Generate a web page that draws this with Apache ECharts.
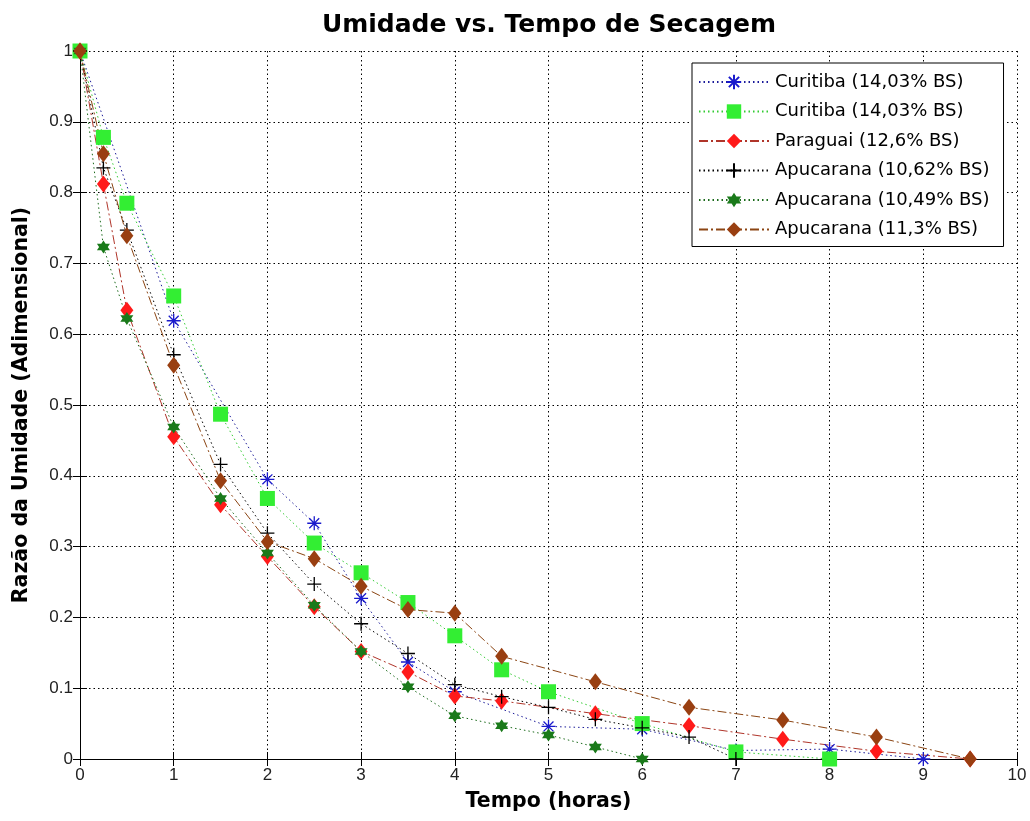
<!DOCTYPE html>
<html>
<head>
<meta charset="utf-8">
<script src="https://cdn.jsdelivr.net/npm/echarts@6/dist/echarts.min.js"></script>
<style>
  html, body { margin: 0; padding: 0; background: #fff; }
  #chart { width: 1030px; height: 821px; }
</style>
</head>
<body>
<div id="chart"></div>
<script>
// Drying curves: moisture ratio vs. drying time (hours)
const seriesNames = [
  'Curitiba (14,03% BS)',
  'Curitiba (14,03% BS) ',
  'Paraguai (12,6% BS)',
  'Apucarana (10,62% BS)',
  'Apucarana (10,49% BS)',
  'Apucarana (11,3% BS)'
];

const curitibaStarT = [0, 1, 2, 2.5, 3, 3.5, 4, 5, 6, 7, 8, 9];
const curitibaStarV = [1, 0.619, 0.395, 0.333, 0.227, 0.137, 0.095, 0.046, 0.042, 0.012, 0.014, 0.0];

const curitibaSquareT = [0, 0.25, 0.5, 1, 1.5, 2, 2.5, 3, 3.5, 4, 4.5, 5, 6, 7, 8];
const curitibaSquareV = [1, 0.878, 0.785, 0.654, 0.487, 0.368, 0.305, 0.263, 0.221, 0.174, 0.126, 0.095, 0.05, 0.01, 0.0];

const paraguaiT = [0, 0.25, 0.5, 1, 1.5, 2, 2.5, 3, 3.5, 4, 4.5, 5.5, 6.5, 7.5, 8.5, 9.5];
const paraguaiV = [1, 0.812, 0.634, 0.455, 0.359, 0.286, 0.215, 0.152, 0.123, 0.089, 0.082, 0.064, 0.047, 0.028, 0.011, 0.0];

const apucarana1062T = [0, 0.25, 0.5, 1, 1.5, 2, 2.5, 3, 3.5, 4, 4.5, 5, 5.5, 6, 6.5, 7];
const apucarana1062V = [1, 0.835, 0.747, 0.571, 0.416, 0.319, 0.247, 0.191, 0.149, 0.105, 0.088, 0.073, 0.056, 0.044, 0.031, 0.0];

const apucarana1049T = [0, 0.25, 0.5, 1, 1.5, 2, 2.5, 3, 3.5, 4, 4.5, 5, 5.5, 6];
const apucarana1049V = [1, 0.723, 0.622, 0.469, 0.368, 0.291, 0.217, 0.152, 0.102, 0.061, 0.047, 0.034, 0.017, 0.0];

const apucarana113T = [0, 0.25, 0.5, 1, 1.5, 2, 2.5, 3, 3.5, 4, 4.5, 5.5, 6.5, 7.5, 8.5, 9.5];
const apucarana113V = [1, 0.855, 0.739, 0.556, 0.393, 0.307, 0.283, 0.244, 0.211, 0.206, 0.145, 0.109, 0.073, 0.055, 0.031, 0.0];

const xTicks = [0, 1, 2, 3, 4, 5, 6, 7, 8, 9, 10];
const yTicks = [0, 0.1, 0.2, 0.3, 0.4, 0.5, 0.6, 0.7, 0.8, 0.9, 1];

function pairs(t, v) { return t.map((x, i) => [x, v[i]]); }

const ASTERISK = 'path://M0,-10L0,10M-10,0L10,0M-7.1,-7.1L7.1,7.1M-7.1,7.1L7.1,-7.1';
const PLUS = 'path://M0,-10L0,10M-10,0L10,0';
const HEXAGRAM = 'path://M0,-10L2.9,-5L8.66,-5L5.8,0L8.66,5L2.9,5L0,10L-2.9,5L-8.66,5L-5.8,0L-8.66,-5L-2.9,-5Z';

const FONT = '"Liberation Sans", Arial, Helvetica, sans-serif';
const WIDE = '"DejaVu Sans", Verdana, sans-serif';
const dotted = [1.5, 3];
const dashDot = [9, 3, 2, 3];

function lineSeries(name, t, v, opts) {
  return {
    name: name,
    type: 'line',
    data: pairs(t, v),
    clip: false,
    symbol: opts.symbol,
    symbolSize: opts.symbolSize,
    showAllSymbol: true,
    itemStyle: opts.itemStyle,
    lineStyle: { color: opts.lineColor, width: opts.lineWidth || 1, type: opts.lineType },
    emphasis: { disabled: true }
  };
}

const chart = echarts.init(document.getElementById('chart'), null, { renderer: 'canvas' });

const axisLabelStyle = { color: '#222', fontSize: 17, fontFamily: FONT };

chart.setOption({
  animation: false,
  backgroundColor: '#ffffff',
  title: {
    text: 'Umidade vs. Tempo de Secagem',
    left: 544,
    top: 8,
    textAlign: 'center',
    textStyle: { fontFamily: WIDE, fontWeight: 'bold', fontSize: 25, color: '#000' }
  },
  grid: { left: 80, right: 13, top: 51, bottom: 62, containLabel: false },
  legend: {
    orient: 'vertical',
    left: 692,
    top: 63,
    padding: [10, 14, 8, 6],
    itemWidth: 70,
    itemHeight: 18,
    itemGap: 11.5,
    backgroundColor: '#fff',
    borderColor: '#000',
    borderWidth: 1,
    borderRadius: 0,
    textStyle: { fontFamily: WIDE, fontSize: 18, color: '#000', padding: [0, 0, 0, 1] },
    data: seriesNames
  },
  xAxis: [
    {
      type: 'value', min: 0, max: 10, interval: 1,
      name: 'Tempo (horas)', nameLocation: 'middle', nameGap: 32,
      nameTextStyle: { fontFamily: WIDE, fontWeight: 'bold', fontSize: 20.5, color: '#000' },
      axisLine: { show: true, lineStyle: { color: '#000', width: 1 } },
      axisTick: { show: true, inside: true, length: 7, lineStyle: { color: '#000' } },
      axisLabel: Object.assign({ margin: 8, formatter: v => xTicks.includes(v) ? String(v) : '' }, axisLabelStyle),
      splitLine: { show: true, lineStyle: { color: '#000', type: dotted, width: 1 } }
    },
    {
      type: 'value', min: 0, max: 10, interval: 1, position: 'top',
      axisLine: { show: true, lineStyle: { color: '#000', width: 1 } },
      axisTick: { show: true, inside: true, length: 7, lineStyle: { color: '#000' } },
      axisLabel: { show: false },
      splitLine: { show: false }
    }
  ],
  yAxis: [
    {
      type: 'value', min: 0, max: 1, interval: 0.1,
      name: 'Razão da Umidade (Adimensional)', nameLocation: 'middle', nameGap: 48,
      nameTextStyle: { fontFamily: WIDE, fontWeight: 'bold', fontSize: 20.5, color: '#000' },
      axisLine: { show: true, lineStyle: { color: '#000', width: 1 } },
      axisTick: { show: true, inside: true, length: 7, lineStyle: { color: '#000' } },
      axisLabel: Object.assign({ margin: 7, formatter: v => {
        const t = yTicks.find(k => Math.abs(k - v) < 1e-9);
        return t === undefined ? '' : String(t);
      } }, axisLabelStyle),
      splitLine: { show: true, lineStyle: { color: '#000', type: dotted, width: 1 } }
    },
    {
      type: 'value', min: 0, max: 1, interval: 0.1, position: 'right',
      axisLine: { show: true, lineStyle: { color: '#000', width: 1 } },
      axisTick: { show: true, inside: true, length: 7, lineStyle: { color: '#000' } },
      axisLabel: { show: false },
      splitLine: { show: false }
    }
  ],
  series: [
    lineSeries(seriesNames[0], curitibaStarT, curitibaStarV, {
      symbol: ASTERISK, symbolSize: 14,
      itemStyle: { color: 'rgba(0,0,0,0)', borderColor: '#1a1acc', borderWidth: 1.3 },
      lineColor: '#1a1a99', lineType: dotted
    }),
    lineSeries(seriesNames[1], curitibaSquareT, curitibaSquareV, {
      symbol: 'rect', symbolSize: 15,
      itemStyle: { color: '#33ee33' },
      lineColor: '#33cc33', lineType: dotted
    }),
    lineSeries(seriesNames[2], paraguaiT, paraguaiV, {
      symbol: 'diamond', symbolSize: [13, 17],
      itemStyle: { color: '#ff1a1a' },
      lineColor: '#b0352a', lineType: dashDot
    }),
    lineSeries(seriesNames[3], apucarana1062T, apucarana1062V, {
      symbol: PLUS, symbolSize: 14,
      itemStyle: { color: 'rgba(0,0,0,0)', borderColor: '#000', borderWidth: 1.3 },
      lineColor: '#000', lineType: dotted
    }),
    lineSeries(seriesNames[4], apucarana1049T, apucarana1049V, {
      symbol: HEXAGRAM, symbolSize: 13,
      itemStyle: { color: '#1a7a1a' },
      lineColor: '#1a6a1a', lineType: dotted
    }),
    lineSeries(seriesNames[5], apucarana113T, apucarana113V, {
      symbol: 'diamond', symbolSize: [13, 17],
      itemStyle: { color: '#993f11' },
      lineColor: '#8b4513', lineType: dashDot
    })
  ]
});
</script>
</body>
</html>
